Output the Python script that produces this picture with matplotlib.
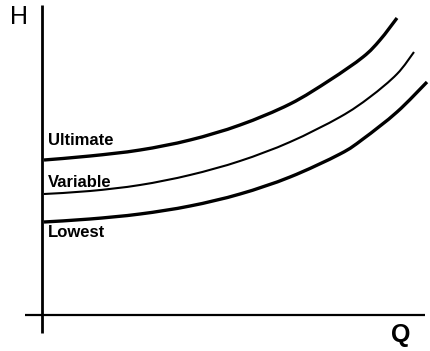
import matplotlib.pyplot as plt
from matplotlib.path import Path
from matplotlib.patches import PathPatch

# head curves read along the flow axis (Q) and head axis (H)
q_ultimate = [2, 48, 98, 148, 198, 248, 288, 321, 338, 355]
h_ultimate = [155, 159, 165, 175, 190, 211, 235, 258, 275, 297]

q_variable = [2, 48, 98, 148, 198, 248, 298, 328, 355, 372]
h_variable = [121, 124, 130, 140, 154, 173, 198, 218, 241, 263]

q_lowest = [2, 48, 98, 148, 198, 248, 298, 321, 355, 385]
h_lowest = [93, 96, 101, 109, 121, 138, 161, 176, 203, 233]

labels = ['Ultimate', 'Variable', 'Lowest']
label_h = [170, 128, 78]


def smooth_path(xs, ys):
    # Catmull-Rom through the points, written as cubic Bezier segments
    pts = list(zip(xs, ys))
    verts = [pts[0]]
    codes = [Path.MOVETO]
    for i in range(len(pts) - 1):
        p0 = pts[max(i - 1, 0)]
        p1 = pts[i]
        p2 = pts[i + 1]
        p3 = pts[min(i + 2, len(pts) - 1)]
        c1 = (p1[0] + (p2[0] - p0[0]) / 6, p1[1] + (p2[1] - p0[1]) / 6)
        c2 = (p2[0] - (p3[0] - p1[0]) / 6, p2[1] - (p3[1] - p1[1]) / 6)
        verts += [c1, c2, p2]
        codes += [Path.CURVE4] * 3
    return Path(verts, codes)


fig = plt.figure(figsize=(4.3, 3.51), dpi=100)
ax = fig.add_axes([0, 0, 1, 1])
ax.set_xlim(-42, 388)
ax.set_ylim(-36, 315)
ax.axis('off')

# axes drawn by hand, crossing at the origin
ax.plot([0, 0], [-18, 310], color='black', lw=2.0, solid_capstyle='butt')
ax.plot([-17, 383], [0, 0], color='black', lw=1.6, solid_capstyle='butt')

for xs, ys, lw in [(q_ultimate, h_ultimate, 2.4),
                   (q_variable, h_variable, 1.5),
                   (q_lowest, h_lowest, 2.4)]:
    ax.add_patch(PathPatch(smooth_path(xs, ys), facecolor='none',
                           edgecolor='black', lw=lw, capstyle='butt'))

for name, h in zip(labels, label_h):
    ax.text(6, h, name, fontsize=12, fontweight='bold', family='Liberation Sans',
            ha='left', va='baseline')

ax.text(-23, 298, 'H', fontsize=18, family='Liberation Sans', ha='center', va='center')
ax.text(359, -20, 'Q', fontsize=18, fontweight='bold', family='Liberation Sans',
        ha='center', va='center')

fig.savefig('out.png', dpi=100)
plt.close(fig)
